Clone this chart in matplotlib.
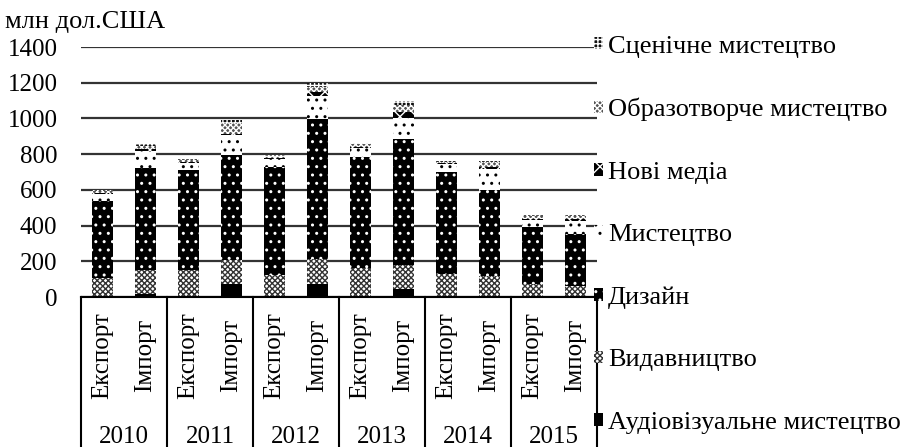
import matplotlib.pyplot as plt
import matplotlib.transforms as mtransforms
import numpy as np

plt.rcParams['font.family'] = ['Liberation Serif', 'DejaVu Serif']
plt.rcParams['hatch.linewidth'] = 1.0

years = ['2010', '2011', '2012', '2013', '2014', '2015']
flows = ['Експорт', 'Імпорт']

# values per bar: 2010 Exp, 2010 Imp, 2011 Exp, ... 2015 Imp (млн дол. США)
audiovisual = [5, 15, 5, 75, 5, 75, 5, 45, 5, 5, 5, 5]
publishing = [100, 135, 145, 130, 118, 140, 160, 135, 123, 110, 68, 57]
design = [435, 570, 560, 590, 605, 780, 620, 705, 570, 485, 320, 290]
art = [35, 100, 40, 110, 45, 130, 50, 120, 45, 115, 40, 75]
new_media = [5, 10, 5, 10, 5, 25, 5, 30, 5, 15, 5, 10]
visual_arts = [15, 15, 10, 60, 5, 25, 15, 40, 10, 25, 15, 15]
performing = [5, 10, 8, 15, 10, 25, 10, 20, 10, 15, 7, 12]

series = [
    ('Аудіовізуальне мистецтво', audiovisual, 'black', 'black', None),
    ('Видавництво', publishing, 'white', '#333333', 'xxxxxx'),
    ('Дизайн', design, 'black', 'white', '..'),
    ('Мистецтво', art, 'white', 'black', '..'),
    ('Нові медіа', new_media, 'black', 'white', 'xx'),
    ('Образотворче мистецтво', visual_arts, '#555555', 'white', 'xxxxxx'),
    ('Сценічне мистецтво', performing, '#111111', 'white', '++++'),
]

fig = plt.figure(figsize=(9.07, 4.47), dpi=100)
ax = fig.add_axes([81 / 907, 150 / 447, 516 / 907, 250 / 447])

x = np.arange(len(audiovisual))
bottom = np.zeros(len(x))
handles = []
for name, vals, fc, hc, hatch in series:
    bars = ax.bar(x, vals, 0.49, bottom=bottom, color=fc, edgecolor=hc,
                  hatch=hatch, linewidth=0, label=name, zorder=3)
    bottom += np.array(vals)
    handles.append(bars)

ax.set_ylim(0, 1400)
ax.set_xlim(-0.5, len(x) - 0.5)
ax.set_yticks(range(0, 1401, 200))
ax.tick_params(axis='y', length=0, labelsize=18, pad=17)
ax.set_xticks([])
ax.yaxis.grid(True, color='#333333', linewidth=1.6)
ax.set_axisbelow(True)
for s in ['top', 'right', 'left']:
    ax.spines[s].set_visible(False)
ax.spines['bottom'].set_color('black')
ax.spines['bottom'].set_linewidth(1.5)

# multi-level category axis
trans = mtransforms.blended_transform_factory(ax.transData, ax.transAxes)
for i in range(len(years) + 1):
    ax.plot([i * 2 - 0.5, i * 2 - 0.5], [0, -0.62], color='black', lw=1.5,
            transform=trans, clip_on=False)
for i, xi in enumerate(x):
    ax.text(xi, -0.235, flows[i % 2], rotation=90, ha='center', va='center',
            fontsize=18, transform=trans)
for j, yr in enumerate(years):
    ax.text(j * 2 + 0.5, -0.56, yr, ha='center', va='center', fontsize=18,
            transform=trans)

fig.text(5 / 907, 1 - 22 / 447, 'млн дол.США', fontsize=19, va='center')

leg = fig.legend(handles=handles[::-1], loc='upper left',
                 bbox_to_anchor=(583 / 907, 1 - 25 / 447), frameon=False,
                 fontsize=19, handlelength=0.35, handleheight=0.35,
                 handletextpad=0.2, labelspacing=1.53, borderaxespad=0)

fig.savefig('out.png', dpi=100)
